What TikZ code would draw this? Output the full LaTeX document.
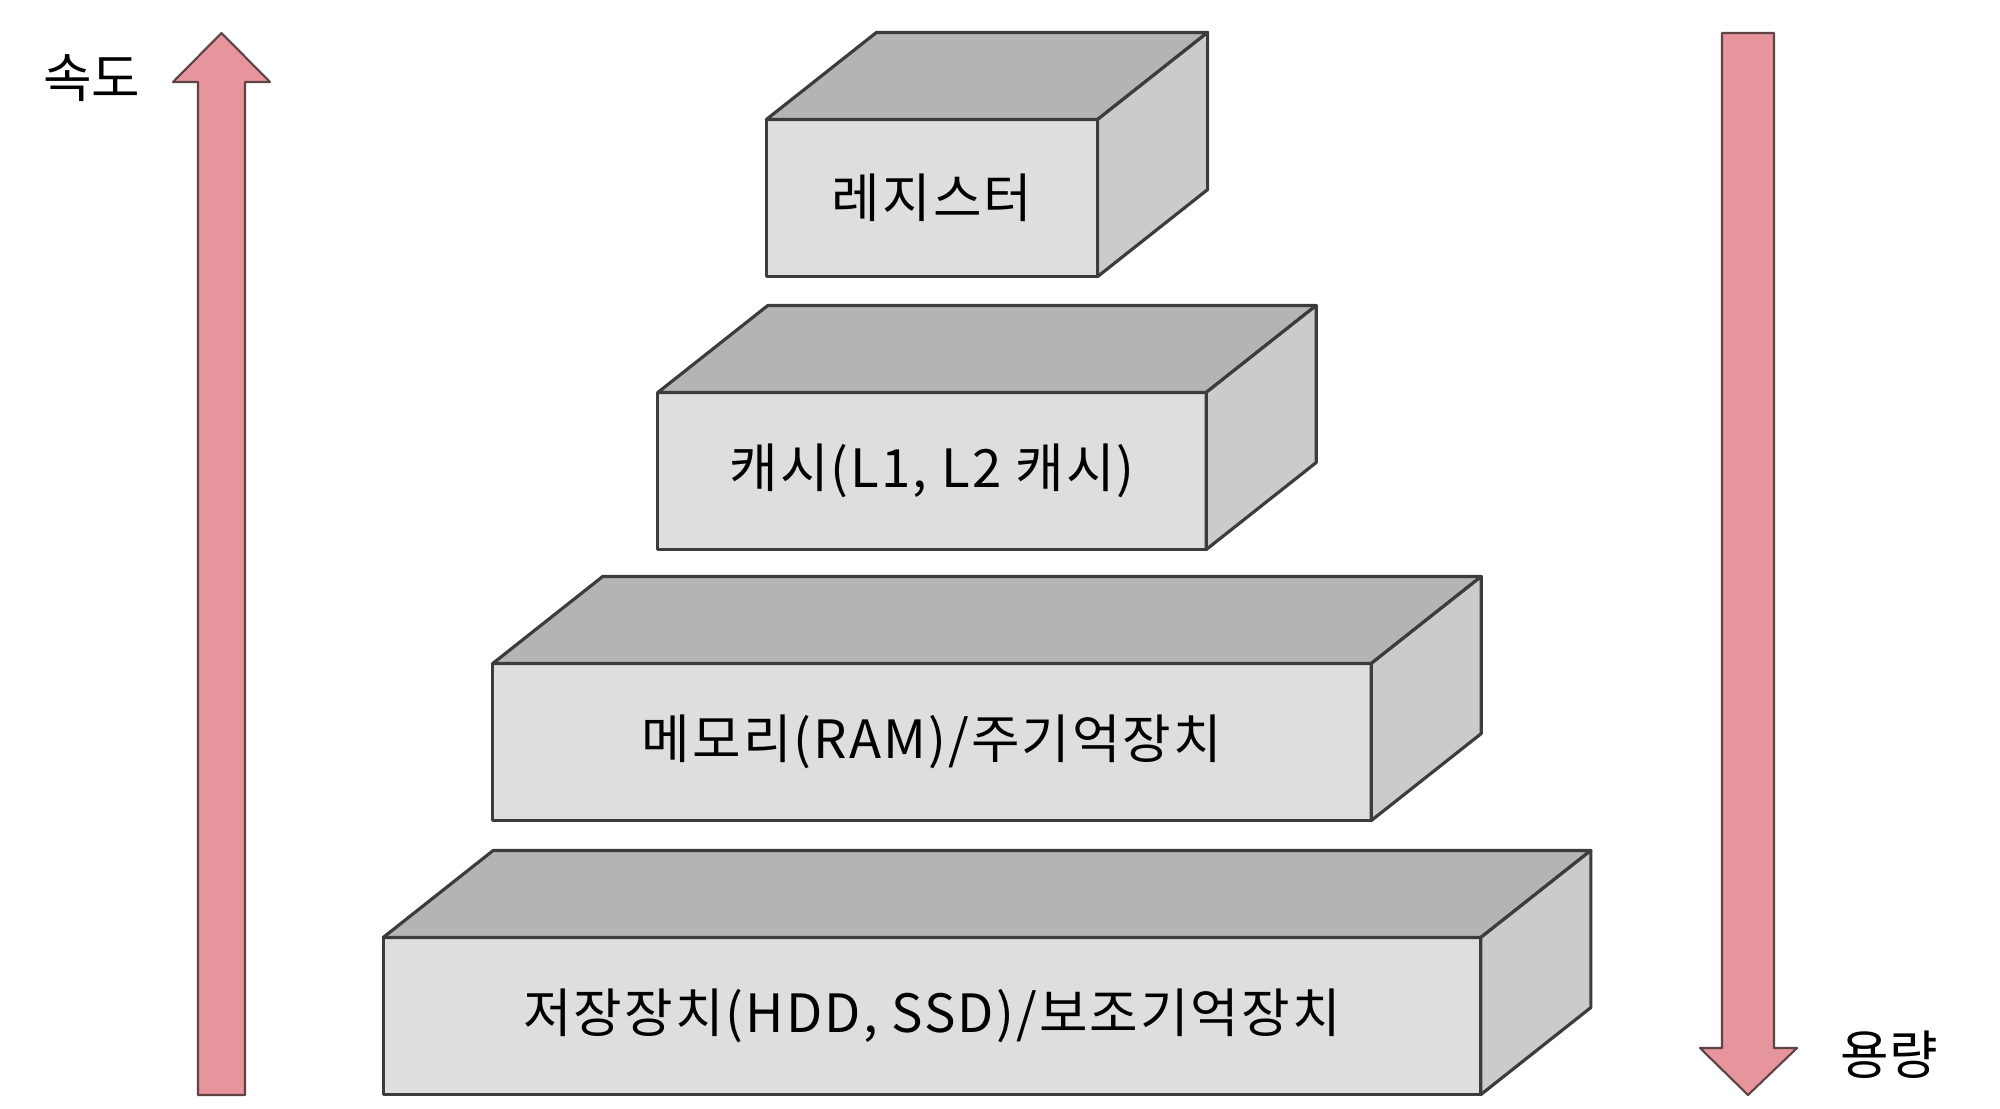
\documentclass[tikz,border=0pt]{standalone}
\usepackage{fontspec}
\setmainfont{Noto Sans CJK KR}
\newfontfamily\boxfont[LetterSpace=4]{Noto Sans CJK KR}
\usetikzlibrary{positioning}
\definecolor{frontgray}{HTML}{DEDEDE}
\definecolor{topgray}{HTML}{B4B4B4}
\definecolor{sidegray}{HTML}{CBCBCB}
\definecolor{edgegray}{HTML}{3C3C3C}
\definecolor{arrowpink}{HTML}{E6959D}
\definecolor{arrowedge}{HTML}{5E4345}
\tikzset{
	every path/.style = {line join=round},
	front/.style = {draw=edgegray, line width=0.9pt, fill=frontgray, rectangle,
		minimum height=1.57cm, outer sep=0pt, inner sep=0pt, font=\boxfont\fontsize{15}{17}\selectfont},
	topface/.style = {draw=edgegray, line width=0.9pt, fill=topgray},
	sideface/.style = {draw=edgegray, line width=0.9pt, fill=sidegray},
	bigarrow/.style = {draw=arrowedge, line width=0.6pt, fill=arrowpink},
	label/.style = {font=\fontsize{15}{17}\selectfont, inner sep=0pt}
}

\begin{document}
\begin{tikzpicture}[x=0.01cm, y=-0.01cm]
	\useasboundingbox (0,0) rectangle (2000,1108);
	% arrows
	\filldraw[bigarrow] (198,1095) -- (198,82) -- (173,82) -- (221.5,33) -- (270,82) -- (245,82) -- (245,1095) -- cycle;
	\filldraw[bigarrow] (1722,33) -- (1722,1048) -- (1700,1048) -- (1748,1095) -- (1797,1048) -- (1774,1048) -- (1774,33) -- cycle;
	\node[label] (speed) at (92,78) {속도};
	\node[label] (capacity) at (1889,1055) {용량};
	% boxes
	\node[front, minimum width=3.31cm] (reg) at (932,198) {레지스터};
	\node[front, minimum width=5.48cm] (cache) at (932,471) {캐시(L1, L2 캐시)};
	\node[front, minimum width=8.78cm] (ram) at (932,742) {메모리(RAM)/주기억장치};
	\node[front, minimum width=10.97cm] (disk) at (932,1016) {저장장치(HDD, SSD)/보조기억장치};
	\foreach \n in {reg,cache,ram,disk} {
		\filldraw[topface] (\n.north west) -- ++(110,-87) -- ([shift={(110,-87)}]\n.north east) -- (\n.north east) -- cycle;
		\filldraw[sideface] (\n.north east) -- ++(110,-87) -- ([shift={(110,-87)}]\n.south east) -- (\n.south east) -- cycle;
	}
\end{tikzpicture}
\end{document}
